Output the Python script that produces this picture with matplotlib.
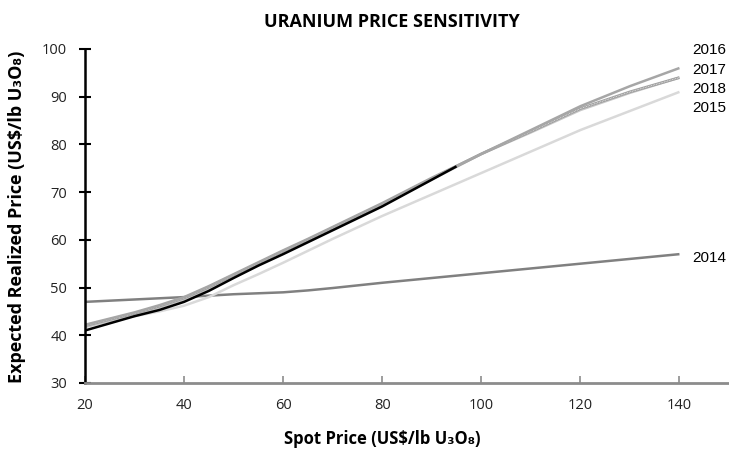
import matplotlib
matplotlib.use('Agg')
import matplotlib.pyplot as plt

# spot price vs expected realized price
spot_a = [20, 30, 35, 40, 45, 50, 55, 60, 65, 70, 80, 90, 100, 110, 120, 130, 140]
p2014 = [47, 47.5, 47.75, 48, 48.3, 48.6, 48.8, 49, 49.4, 49.9, 51, 52, 53, 54, 55, 56, 57]
p2015 = [42, 44, 45.0, 46.2, 48.0, 50.5, 52.8, 55.2, 57.7, 60.2, 65, 69.5, 74, 78.5, 83, 87, 91]
p2016 = [42.2, 44.8, 46.3, 48, 50.3, 52.8, 55.3, 57.8, 60.2, 62.7, 67.7, 73, 78, 83, 88, 92.2, 96]
p2017 = [42, 44.6, 46.1, 47.8, 50.1, 52.6, 55.1, 57.6, 60.0, 62.5, 67.5, 72.8, 78, 82.7, 87.5, 91, 94]
p2018 = [41.7, 44.3, 45.8, 47.5, 49.8, 52.3, 54.8, 57.3, 59.8, 62.3, 67.3, 72.6, 78, 82.5, 87.2, 90.8, 94]
cur_spot = [20, 30, 35, 40, 45, 50, 55, 60, 70, 80, 90, 95]
current = [41, 44, 45.3, 47, 49.3, 52, 54.6, 57, 62, 67, 72.6, 75.4]

labels = ['2016', '2017', '2018', '2015', '2014']
label_y = [99.8, 95.6, 91.6, 87.6, 56.2]

fig = plt.figure(figsize=(7.29, 4.49), dpi=100)
ax = fig.add_axes([0.1166, 0.147, 0.8834, 0.744])

kw = dict(solid_capstyle='butt', solid_joinstyle='round')
ax.plot(spot_a, p2014, color='#808080', lw=1.8, **kw)
ax.plot(spot_a, p2015, color='#d9d9d9', lw=1.8, **kw)
ax.plot(spot_a, p2018, color='#c8c8c8', lw=1.8, **kw)
ax.plot(spot_a, p2017, color='#a0a0a0', lw=2.0, **kw)
ax.plot(spot_a, p2017, color='#f0f0f0', lw=0.6, ls=(0, (1, 1)))
ax.plot(spot_a, p2016, color='#a6a6a6', lw=1.8, **kw)
ax.plot(cur_spot, current, color='black', lw=1.8, **kw)

ax.set_xlim(20, 150)
ax.set_ylim(30, 100)
ax.set_xticks(range(20, 141, 20))
ax.set_yticks(range(30, 101, 10))

for s in ['top', 'right']:
    ax.spines[s].set_visible(False)
ax.spines['left'].set_linewidth(1.8)
ax.spines['left'].set_color('black')
ax.spines['bottom'].set_linewidth(2.0)
ax.spines['bottom'].set_color('#8c8c8c')

ax.tick_params(axis='y', direction='inout', length=8, width=1.5, color='black',
               labelsize=10.5, pad=9)
ax.tick_params(axis='x', direction='in', length=5, width=1.2, color='#8c8c8c',
               labelsize=10.5, pad=11)
fam = ['Open Sans', 'DejaVu Sans']
for t in ax.get_xticklabels() + ax.get_yticklabels():
    t.set_fontfamily(fam)
    t.set_color('#222222')

# year labels at the right
for lab, y in zip(labels, label_y):
    ax.text(142.5, y, lab, fontsize=11, family='Liberation Sans', va='center',
            ha='left', clip_on=False)

fig.text(0.538, 0.951, 'URANIUM PRICE SENSITIVITY', ha='center', va='center',
         fontsize=13, fontweight='bold', family=fam)
fig.text(0.525, 0.022, 'Spot Price (US$/lb U\u2083O\u2088)', ha='center', va='center',
         fontsize=12, fontweight='bold', family=fam)
fig.text(0.024, 0.517, 'Expected Realized Price (US$/lb U\u2083O\u2088)', ha='center',
         va='center', rotation=90, fontsize=13, fontweight='bold', family=fam)

plt.savefig('out.png', dpi=100)
